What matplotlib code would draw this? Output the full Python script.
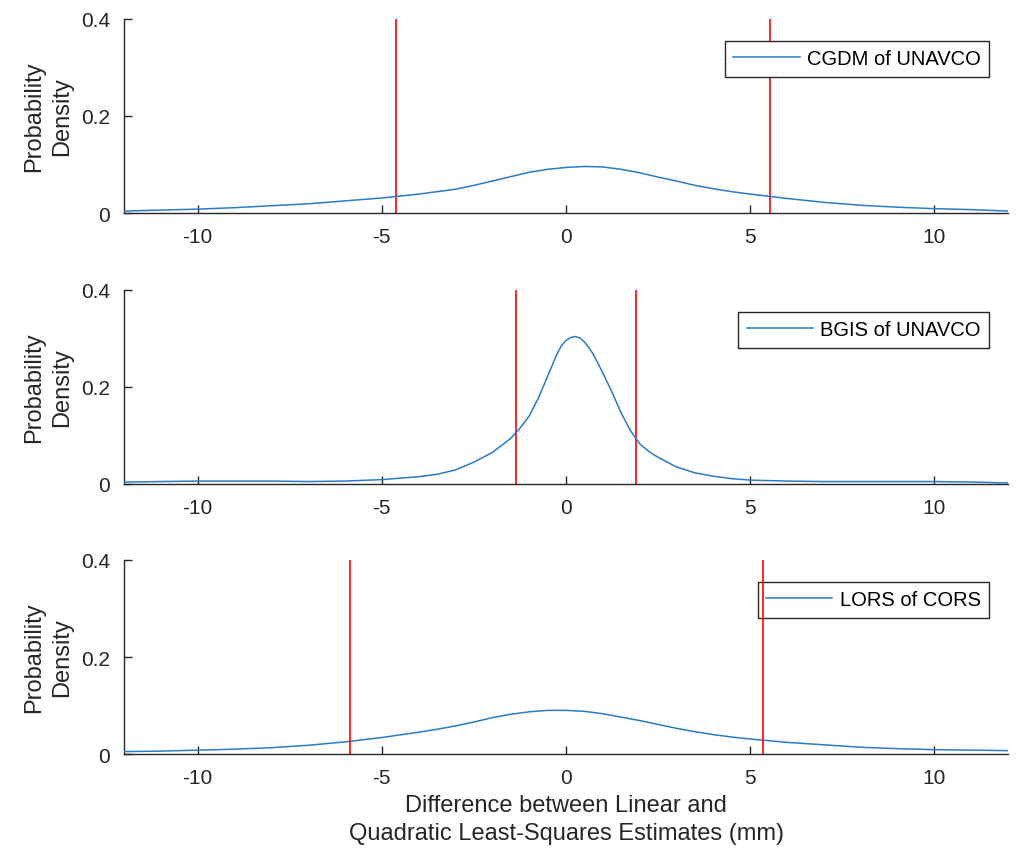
import numpy as np
import matplotlib
matplotlib.use('Agg')
import matplotlib.pyplot as plt

plt.rcParams['font.family'] = ['Liberation Sans', 'DejaVu Sans']
plt.rcParams['axes.unicode_minus'] = False

# density curves (x in mm, y = probability density)
x_cgdm = [-12, -11, -10, -9, -8, -7, -6, -5, -4, -3.5, -3, -2.5, -2, -1.5, -1, -0.5,
          0, 0.5, 1, 1.5, 2, 2.5, 3, 3.5, 4, 4.5, 5, 6, 7, 8, 9, 10, 11, 12]
y_cgdm = [0.004, 0.006, 0.008, 0.011, 0.015, 0.019, 0.025, 0.031, 0.039, 0.044, 0.049,
          0.057, 0.066, 0.075, 0.084, 0.090, 0.094, 0.096, 0.095, 0.090, 0.083, 0.074,
          0.066, 0.057, 0.050, 0.044, 0.039, 0.030, 0.022, 0.016, 0.012, 0.009, 0.007, 0.004]

x_bgis = [-12, -11, -10, -9, -8, -7, -6, -5, -4.5, -4, -3.5, -3, -2.5, -2, -1.5, -1.25, -1,
          -0.75, -0.5, -0.25, -0.125, 0, 0.125, 0.25, 0.375, 0.5, 0.625, 0.75, 1, 1.25,
          1.5, 1.75, 2, 2.25, 2.5, 3, 3.5, 4, 4.5, 5, 6, 7, 8, 9, 10, 11, 12]
y_bgis = [0.004, 0.005, 0.006, 0.006, 0.006, 0.005, 0.006, 0.009, 0.012, 0.015, 0.020,
          0.029, 0.045, 0.065, 0.094, 0.115, 0.140, 0.177, 0.222, 0.267, 0.285, 0.296,
          0.302, 0.304, 0.301, 0.293, 0.281, 0.266, 0.229, 0.189, 0.146, 0.110, 0.083,
          0.067, 0.055, 0.035, 0.023, 0.016, 0.011, 0.008, 0.006, 0.005, 0.005, 0.005,
          0.005, 0.004, 0.002]

x_lors = [-12, -11, -10, -9, -8, -7, -6, -5, -4, -3.5, -3, -2.5, -2, -1.5, -1, -0.5,
          0, 0.5, 1, 1.5, 2, 2.5, 3, 3.5, 4, 4.5, 5, 6, 7, 8, 9, 10, 11, 12]
y_lors = [0.005, 0.006, 0.008, 0.010, 0.013, 0.018, 0.025, 0.034, 0.045, 0.051, 0.058,
          0.066, 0.075, 0.082, 0.087, 0.090, 0.090, 0.088, 0.083, 0.076, 0.069, 0.061,
          0.053, 0.046, 0.040, 0.035, 0.031, 0.024, 0.019, 0.014, 0.011, 0.009, 0.008, 0.007]

names = ['CGDM of UNAVCO', 'BGIS of UNAVCO', 'LORS of CORS']
bounds = [(-4.62, 5.55), (-1.37, 1.91), (-5.87, 5.35)]

xticks = [-10, -5, 0, 5, 10]
yticks = [0, 0.2, 0.4]
ytick_labels = ['0', '0.2', '0.4']

series = [(x_cgdm, y_cgdm), (x_bgis, y_bgis), (x_lors, y_lors)]

fig = plt.figure(figsize=(10.19, 8.54), dpi=100)
bottoms = [0.7494, 0.4321, 0.1159]
dark = '#262626'

for i in range(3):
    ax = fig.add_axes([0.1217, bottoms[i], 0.8675, 0.2272])
    xs, ys = series[i]
    ax.plot(xs, ys, color='#2a7cc4', lw=1.1, label=names[i], zorder=3)
    lo, hi = bounds[i]
    # red lines are on top of the legend only in the last panel
    z = 10 if i == 2 else 2
    ax.plot([lo, lo], [0, 0.4], color='red', lw=1.2, zorder=z)
    ax.plot([hi, hi], [0, 0.4], color='red', lw=1.2, zorder=z)
    ax.set_xlim(-12, 12)
    ax.set_ylim(0, 0.4)
    ax.set_xticks(xticks)
    ax.set_yticks(yticks)
    ax.set_yticklabels(ytick_labels)
    for s in ['top', 'right']:
        ax.spines[s].set_visible(False)
    for s in ['left', 'bottom']:
        ax.spines[s].set_color(dark)
        ax.spines[s].set_linewidth(1.0)
    ax.tick_params(direction='in', length=6, width=1.0, colors=dark,
                   labelsize=15, pad=10)
    ax.set_ylabel('Probability\nDensity', fontsize=17, color=dark,
                  linespacing=1.3, labelpad=6)
    leg = ax.legend(loc='upper right', bbox_to_anchor=(0.9785, 0.887),
                    borderaxespad=0, fontsize=14.5, fancybox=False,
                    edgecolor=dark, framealpha=1, handlelength=3.3,
                    handletextpad=0.35, borderpad=0.42)
    leg.get_frame().set_linewidth(1.0)
    leg.set_zorder(5)
    if i == 2:
        ax.set_xlabel('Difference between Linear and\nQuadratic Least-Squares Estimates (mm)',
                      fontsize=17, color=dark, linespacing=1.35, labelpad=5)

fig.savefig('out.png', dpi=100)
